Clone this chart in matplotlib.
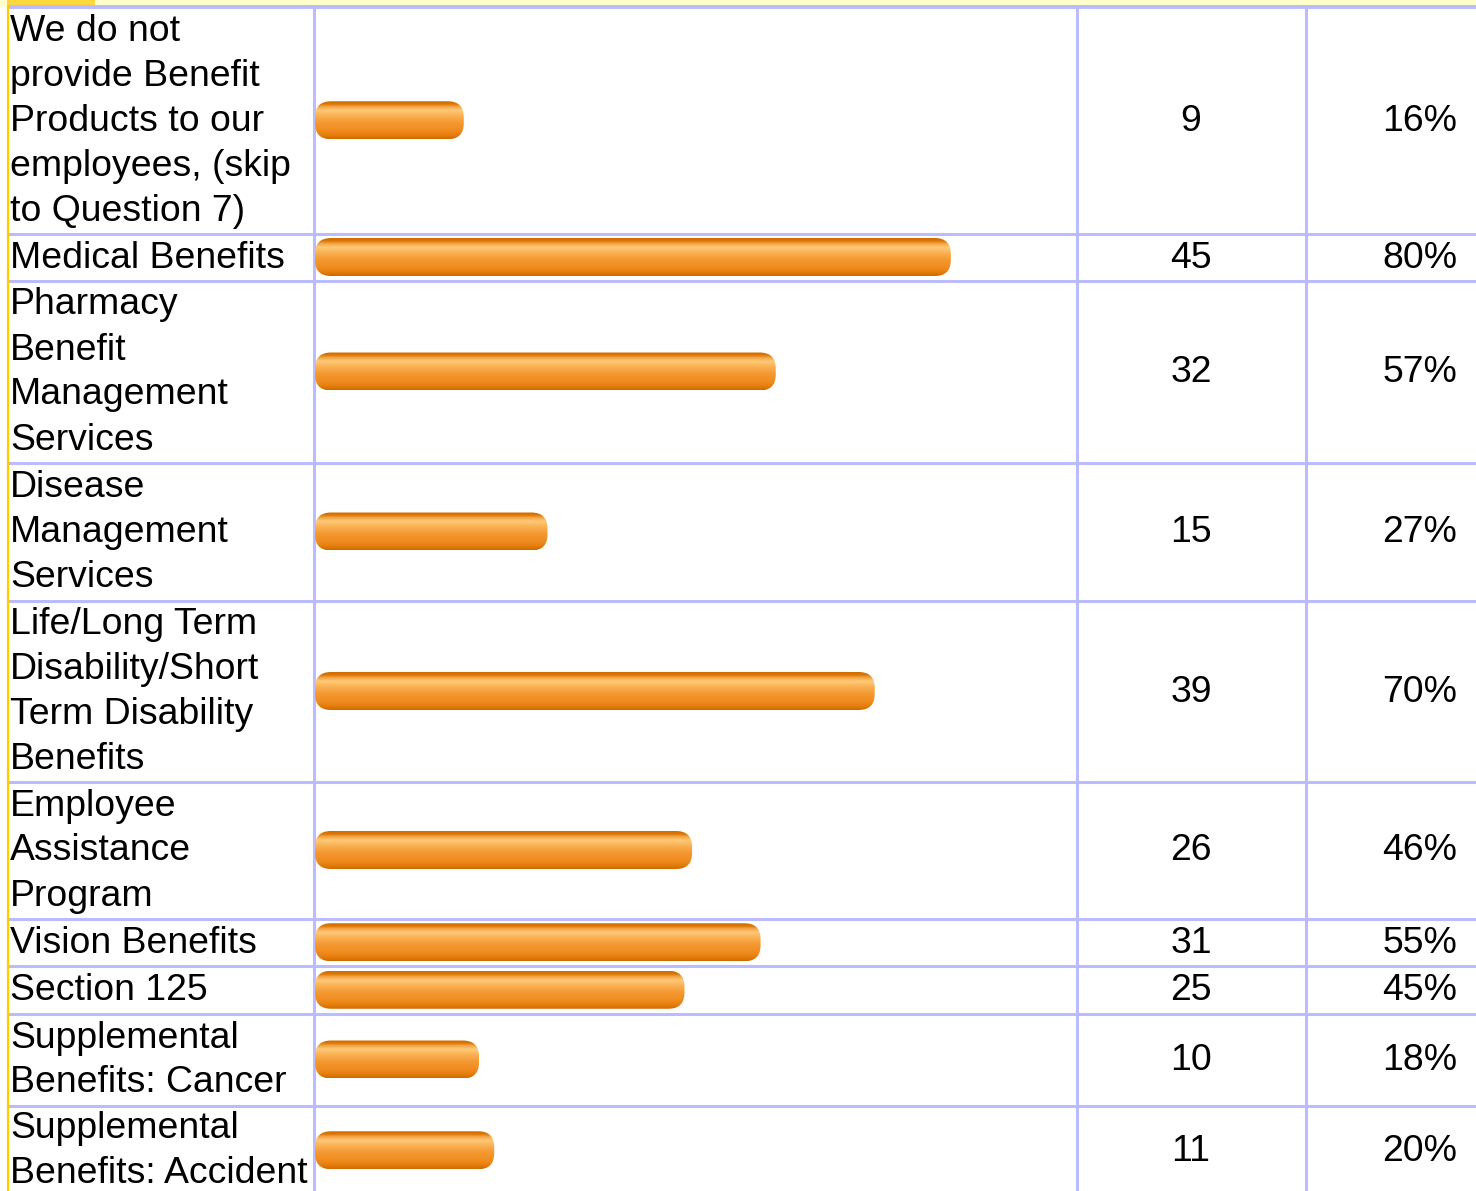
import numpy as np
import matplotlib
matplotlib.use("Agg")
import matplotlib.pyplot as plt
from matplotlib.patches import FancyBboxPatch, Rectangle
from matplotlib.colors import to_rgb

# ---------------- data ----------------
labels = [
    "We do not\nprovide Benefit\nProducts to our\nemployees, (skip\nto Question 7)",
    "Medical Benefits",
    "Pharmacy\nBenefit\nManagement\nServices",
    "Disease\nManagement\nServices",
    "Life/Long Term\nDisability/Short\nTerm Disability\nBenefits",
    "Employee\nAssistance\nProgram",
    "Vision Benefits",
    "Section 125",
    "Supplemental\nBenefits: Cancer",
    "Supplemental\nBenefits: Accident",
]
counts = [9, 45, 32, 15, 39, 26, 31, 25, 10, 11]
percents = [16, 80, 57, 27, 70, 46, 55, 45, 18, 20]

# ---------------- layout (pixels) ----------------
W, H = 1476, 1191
row_edges = [7, 233.5, 280.5, 462.5, 600.5, 781.5, 918.5, 966, 1013.5, 1105.5, 1195]
col_lines = [313.5, 1076.5, 1306]
line_pitch = 45
base_off = 10.5
fs = 26.9
grid_col = "#BBBBFF"
font = ["Liberation Sans", "DejaVu Sans"]

fig = plt.figure(figsize=(W / 100, H / 100), dpi=100)
fig.patch.set_facecolor("white")
ax = fig.add_axes([0, 0, 1, 1])
ax.set_xlim(0, W)
ax.set_ylim(H, 0)
ax.axis("off")

# top strip
ax.add_patch(Rectangle((0, 0), W, 6.5, facecolor="#FFFFCC", edgecolor="none"))
ax.add_patch(Rectangle((7, 0), 88, 6.5, facecolor="#FFD740", edgecolor="none"))

# grid lines
for y in row_edges[:-1]:
    ax.plot([7, W], [y, y], color=grid_col, lw=2.2 if y > 10 else 2.8,
            solid_capstyle="butt")
for x in col_lines:
    ax.plot([x, x], [7, H], color=grid_col, lw=2.2, solid_capstyle="butt")
ax.plot([7.7, 7.7], [6, H], color="#FFCC00", lw=1.6, solid_capstyle="butt")

# text
for i, lab in enumerate(labels):
    yc = (row_edges[i] + row_edges[i + 1]) / 2
    lines = lab.split("\n")
    n = len(lines)
    for j, ln in enumerate(lines):
        yb = yc + (j - (n - 1) / 2) * line_pitch + base_off
        ax.text(10, yb, ln, fontsize=fs, family=font, ha="left", va="baseline",
                color="black")
    ax.text(1191, yc + base_off, str(counts[i]), fontsize=fs, family=font,
            ha="center", va="baseline", color="black")
    ax.text(1457, yc + base_off, f"{percents[i]}%", fontsize=fs, family=font,
            ha="right", va="baseline", color="black")

# ---------------- bars ----------------
bx_left, bx_right = 315, 1076
px_per_unit = 7.61
bx = fig.add_axes([bx_left / W, 0, (bx_right - bx_left) / W, 1])
bx.set_xlim(0, (bx_right - bx_left) / px_per_unit)
bx.set_ylim(H, 0)
bx.axis("off")
bx.patch.set_alpha(0)

cap = 3.55          # extra length for the rounded caps (units)
bar_h = 38
radius_px = 16

stops = [(0.0, "#D26C00"), (0.07, "#DA7604"), (0.14, "#F3A444"),
         (0.24, "#FFCA78"), (0.36, "#FBB458"), (0.55, "#F59A34"),
         (0.80, "#EF8A1C"), (0.92, "#E27A08"), (1.0, "#D06A00")]
ts = np.linspace(0, 1, 64)
grad = np.zeros((64, 1, 3))
for k in range(3):
    grad[:, 0, k] = np.interp(ts, [s[0] for s in stops],
                              [to_rgb(s[1])[k] for s in stops])

for i, p in enumerate(percents):
    yc = (row_edges[i] + row_edges[i + 1]) / 2
    L = p + cap
    patch = FancyBboxPatch((0, yc - bar_h / 2), L, bar_h,
                           boxstyle=f"round,pad=0,rounding_size={radius_px / px_per_unit}",
                           mutation_aspect=px_per_unit,
                           facecolor="none", edgecolor="none",
                           transform=bx.transData)
    bx.add_patch(patch)
    im = bx.imshow(grad, extent=(0, L, yc + bar_h / 2, yc - bar_h / 2),
                   origin="upper", aspect="auto", interpolation="bilinear")
    im.set_clip_path(patch)

bx.set_xlim(0, (bx_right - bx_left) / px_per_unit)
bx.set_ylim(H, 0)

fig.savefig("out.png", dpi=100)
